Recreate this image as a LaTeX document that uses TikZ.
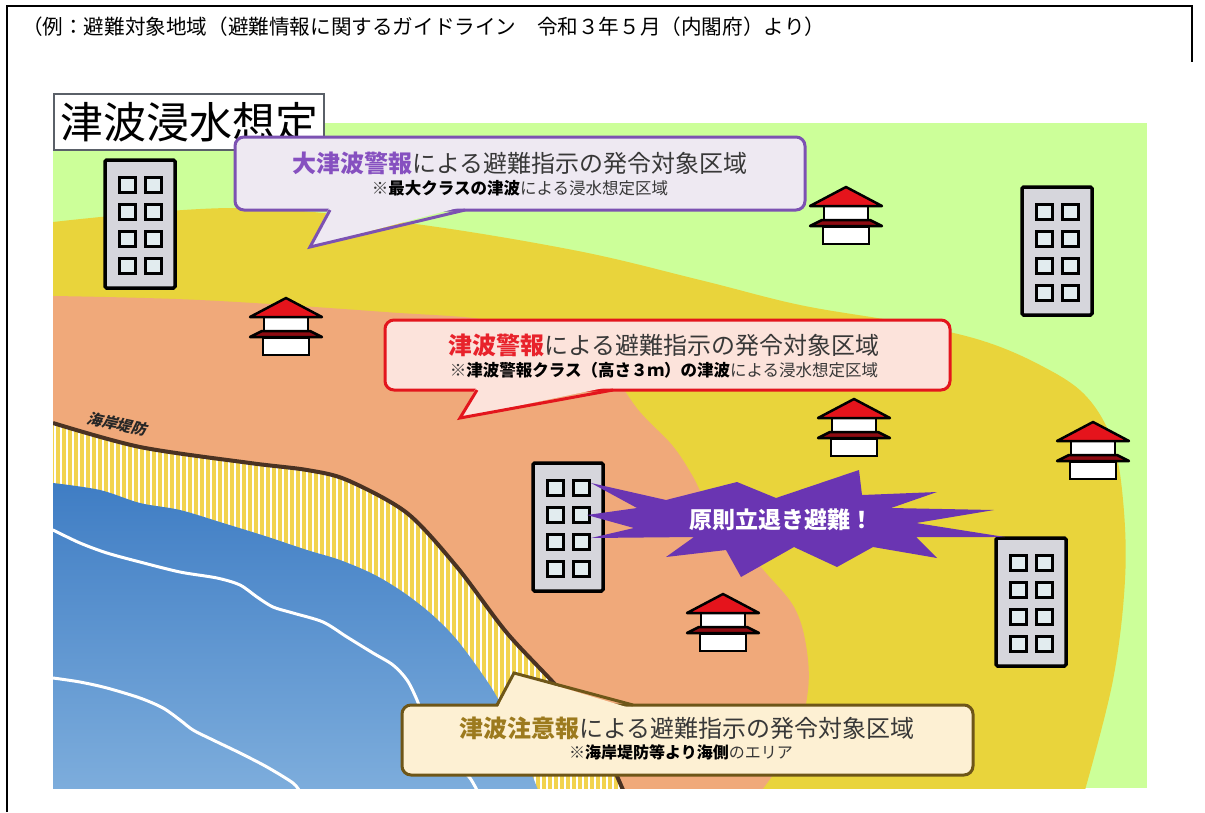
\documentclass[tikz,border=0pt]{standalone}
\usepackage{fontspec}
\newfontfamily\jp{Noto Sans CJK JP}
\newfontfamily\jpsl[FakeSlant=0.25]{Noto Sans CJK JP}
\newcommand\jpsize[1]{\fontsize{#1}{#1}\selectfont}

\definecolor{landgreen}{HTML}{CCFF99}
\definecolor{zoneyellow}{HTML}{E9D43B}
\definecolor{zoneorange}{HTML}{F0A97A}
\definecolor{stripeyellow}{HTML}{F2D34E}
\definecolor{seatop}{HTML}{3F7DC4}
\definecolor{seabottom}{HTML}{7DADDC}
\definecolor{wallbrown}{HTML}{4A3222}
\definecolor{bldggrey}{HTML}{D6D6DC}
\definecolor{winblue}{HTML}{E2ECEF}
\definecolor{roofred}{HTML}{E5141C}
\definecolor{eavered}{HTML}{8E0B12}
\definecolor{aFill}{HTML}{EEE9F2}
\definecolor{aLine}{HTML}{7C52B2}
\definecolor{aText}{HTML}{8650C0}
\definecolor{bFill}{HTML}{FCE3DB}
\definecolor{bLine}{HTML}{E3161D}
\definecolor{bText}{HTML}{E8222B}
\definecolor{cFill}{HTML}{FDF0D3}
\definecolor{cLine}{HTML}{6E5618}
\definecolor{cText}{HTML}{9C7A1E}
\definecolor{txtgrey}{HTML}{383838}
\definecolor{starpurple}{HTML}{6A35B2}
\definecolor{titleline}{HTML}{5A6068}

\begin{document}
\begin{tikzpicture}[x=1pt,y=-1pt,
  calloutbox/.style={line width=3pt, rounded corners=9pt, inner sep=0pt},
  bigline/.style={font=\jp\jpsize{24}, text=txtgrey, inner sep=0pt},
  smallline/.style={font=\jp\jpsize{16.5}, text=txtgrey, inner sep=0pt},
  building/.pic={
    \draw[line width=3.5pt, fill=bldggrey, rounded corners=1.5pt] (-35,-64) rectangle (35,64);
    \foreach \r in {-47,-20,7,34} {
      \draw[line width=3pt, fill=winblue] (-21,\r) rectangle (-5,\r+15);
      \draw[line width=3pt, fill=winblue] (5,\r) rectangle (21,\r+15);
    }
  },
  house/.pic={
    \draw[line width=2.5pt, fill=white] (-22,19) rectangle (22,34);
    \draw[line width=2.5pt, fill=white] (-23,40) rectangle (23,57);
    \draw[line width=2.5pt, fill=eavered, line join=round]
      (-36,39) -- (-24,33) -- (24,33) -- (36,39) -- cycle;
    \draw[line width=2.5pt, fill=roofred, line join=round]
      (0,0) -- (36,19) -- (-36,19) -- cycle;
  }]
\useasboundingbox (0,0) rectangle (1205,812);
\fill[white] (0,0) rectangle (1205,812);

% page frame
\draw[line width=2pt] (7,812) -- (7,6) -- (1192,6) -- (1192,62);

% heading
\node[anchor=west, font=\jp\jpsize{20.6}, inner sep=0pt] (heading) at (22,27)
  {（例：避難対象地域（避難情報に関するガイドライン　令和３年５月（内閣府）より）};

% ---------- map ----------
\begin{scope}
\clip (53,123) rectangle (1147,788);
\fill[landgreen] (53,123) rectangle (1147,788);
% zone reached by the largest tsunami
\fill[zoneyellow] plot[smooth, tension=0.6] coordinates {(53,222) (233,208) (400,222) (573,250)
  (700,280) (800,305) (900,322) (980,340) (1040,365) (1085,395) (1112,440) (1123,500)
  (1125,580) (1113,680) (1085,790)} -- (53,790) -- cycle;
% zone of the tsunami warning
\fill[zoneorange] plot[smooth, tension=0.6] coordinates {(53,296) (200,300) (385,312) (500,322)
  (590,352) (640,412) (672,445) (692,475) (709,507) (737,540) (766,573) (794,607)
  (806,645) (808,690) (795,740) (762,790)} -- (53,790) -- cycle;
% strip seaward of the sea wall
\begin{scope}
\clip plot[smooth] coordinates {(53,423) (140,447) (250,463) (307,470) (347,480) (407,513)
  (457,567) (507,633) (560,690) (600,742) (623,790)} -- (53,790) -- cycle;
\fill[stripeyellow] (53,400) rectangle (640,790);
\foreach \x in {55,61,...,640} \draw[white, line width=1.7pt] (\x,400) -- (\x,790);
\end{scope}
% sea
\shade[top color=seatop, bottom color=seabottom] plot[smooth, tension=0.55] coordinates {(53,483) (100,490)
  (140,503) (180,510) (223,523) (265,536) (307,550) (340,560) (373,574) (400,590) (423,607)
  (440,622) (457,640) (478,668) (497,697) (518,740) (538,790)} -- (53,790) -- cycle;
% wave crests
\draw[white, line width=3pt, line cap=round] plot[smooth] coordinates {(53,530) (80,543) (107,553)
  (140,562) (180,572) (217,578) (240,585) (257,597) (273,607) (293,613) (323,622) (347,637)
  (373,653) (393,665) (407,680) (417,700) (425,722)};
\draw[white, line width=3pt, line cap=round] plot[smooth] coordinates {(53,678) (80,682) (107,688)
  (140,698) (163,708) (180,720) (193,730) (213,740) (240,753) (267,767) (293,783) (300,792)};
\draw[white, line width=3pt] plot[smooth] coordinates {(460,768) (470,778) (478,792)};
% sea wall
\draw[wallbrown, line width=4pt] plot[smooth] coordinates {(53,423) (140,447) (250,463) (307,470)
  (347,480) (407,513) (457,567) (507,633) (560,690) (600,742) (623,790)};
\end{scope}

\node[rotate=-12, font=\jpsl\bfseries\jpsize{15}, text=black!85, inner sep=0pt] (wall) at (117,424) {海岸堤防};

% title box
\node[draw=titleline, line width=2pt, fill=white, anchor=north west, minimum width=270pt,
  minimum height=56pt, inner sep=0pt, font=\jp\jpsize{43}] (title) at (53,93) {津波浸水想定};

% buildings and houses
\pic at (140,224) {building};
\pic at (1057,251) {building};
\pic at (568,527) {building};
\pic at (1031,602) {building};
\pic at (846,187) {house};
\pic at (286,298) {house};
\pic at (854,399) {house};
\pic at (1093,422) {house};
\pic at (723,594) {house};

% callout: major tsunami warning
\node[calloutbox, draw=aLine, fill=aFill, minimum width=570pt, minimum height=73pt] (calA) at (520,173.5) {};
\fill[aFill] (330,206) -- (310,247) -- (465,206) -- cycle;
\draw[aLine, line width=3pt] (330,210) -- (310,247) -- (465,210);
\node[bigline] (calA1) at (520,163) {\textcolor{aText}{\bfseries 大津波警報}による避難指示の発令対象区域};
\node[smallline] (calA2) at (520,188) {※{\bfseries\color{black}最大クラスの津波}による浸水想定区域};

% callout: tsunami warning
\node[calloutbox, draw=bLine, fill=bFill, minimum width=565pt, minimum height=70pt] (calB) at (667.5,355) {};
\fill[bFill] (477,386) -- (460,418) -- (613,386) -- cycle;
\draw[bLine, line width=3pt] (477,390) -- (460,418) -- (613,390);
\node[bigline] (calB1) at (664,345) {\textcolor{bText}{\bfseries 津波警報}による避難指示の発令対象区域};
\node[smallline] (calB2) at (664,370) {※{\bfseries\color{black}津波警報クラス（高さ３ｍ）の津波}による浸水想定区域};

% starburst
\fill[starpurple] (591,483) -- (666,500) -- (737,482) -- (776,498) -- (859,470) -- (862,495)
  -- (937,492) -- (891,508) -- (994,510) -- (916,523) -- (1005,537) -- (916,537) -- (937,558)
  -- (873,547) -- (837,567) -- (794,547) -- (741,577) -- (726,550) -- (666,557) -- (694,537)
  -- (591,538) -- (634,528) -- (587,515) -- (637,508) -- cycle;
\node[font=\jp\bfseries\jpsize{23}, text=white, inner sep=0pt] (evac) at (781,520) {原則立退き避難！};

% callout: tsunami advisory
\node[calloutbox, draw=cLine, fill=cFill, minimum width=571pt, minimum height=70pt] (calC) at (687.5,740) {};
\fill[cFill] (497,709) -- (514,673) -- (633,709) -- cycle;
\draw[cLine, line width=3pt] (497,705) -- (514,673) -- (633,705);
\node[bigline] (calC1) at (687,728) {\textcolor{cText}{\bfseries 津波注意報}による避難指示の発令対象区域};
\node[smallline, font=\jp\jpsize{16}] (calC2) at (681,752) {※{\bfseries\color{black}海岸堤防等より海側}のエリア};
\end{tikzpicture}
\end{document}
